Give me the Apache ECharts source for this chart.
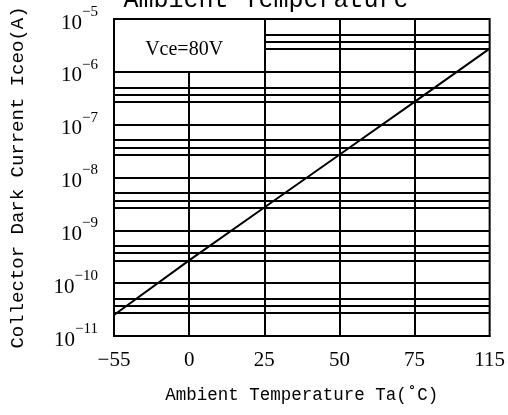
<!DOCTYPE html>
<html>
<head>
<meta charset="utf-8">
<script src="https://cdn.jsdelivr.net/npm/echarts@6/dist/echarts.min.js"></script>
<style>
  html, body { margin: 0; padding: 0; background: #fff; }
  #chart { width: 508px; height: 415px; }
</style>
</head>
<body>
<div id="chart"></div>
<script>
// Ambient temperature ticks (°C), drawn equally spaced
const temperatures = ['\u221255', '0', '25', '50', '75', '115'];
// Collector dark current Iceo (A) at each temperature, Vce = 80 V
const darkCurrent = [2.5e-11, 2.7e-10, 2.7e-9, 2.7e-8, 2.7e-7, 2.75e-6];
// Decades that carry intermediate grid lines
const decades = [-11, -10, -9, -8, -7, -6];
// Multipliers of the intermediate grid lines inside each decade
const minorSteps = [5.1, 3.7, 2.7];
// Vertical grid lines
const fullVerticals = ['25', '50', '75'];
const shortVertical = '0';
const currentMin = 1e-11;
const currentMax = 1e-5;
const boxTop = 1e-6;

const serif = '"Liberation Serif", "Times New Roman", serif';
const mono = '"Liberation Mono", "Courier New", monospace';
const ink = '#000';
const gridLine = { color: ink, width: 2, type: 'solid' };

// intermediate horizontal lines; the top decade leaves room for the Vce box
const gridLines = [];
decades.forEach(d => {
  minorSteps.forEach(m => {
    const v = m * Math.pow(10, d);
    if (v > boxTop) {
      gridLines.push([{ coord: ['25', v] }, { coord: ['115', v] }]);
    } else {
      gridLines.push([{ coord: [temperatures[0], v] }, { coord: ['115', v] }]);
    }
  });
});
fullVerticals.forEach(t => {
  gridLines.push([{ coord: [t, currentMin] }, { coord: [t, currentMax] }]);
});
gridLines.push([{ coord: [shortVertical, currentMin] }, { coord: [shortVertical, boxTop] }]);

function decadeLabel(value) {
  const e = Math.round(Math.log10(value));
  return '{b|10}{e|' + (e < 0 ? '\u2212' : '') + Math.abs(e) + '}';
}

const chart = echarts.init(document.getElementById('chart'), null, { renderer: 'canvas' });
chart.setOption({
  animation: false,
  backgroundColor: '#fff',
  grid: {
    left: 114, right: 17, top: 19, bottom: 79,
    show: true, borderColor: ink, borderWidth: 2, backgroundColor: 'transparent'
  },
  graphic: [{
    type: 'text',
    x: 266, y: 13,
    style: {
      text: 'Ambient Temperature',
      font: '25px ' + mono,
      fill: ink,
      textAlign: 'center',
      textVerticalAlign: 'bottom'
    }
  }],
  xAxis: {
    type: 'category',
    data: temperatures,
    boundaryGap: false,
    axisLine: { show: true, lineStyle: { color: ink, width: 2 } },
    axisTick: { show: false },
    splitLine: { show: false },
    axisLabel: { color: ink, fontFamily: serif, fontSize: 21, margin: 14 },
    name: 'Ambient Temperature Ta(\u02DAC)',
    nameLocation: 'middle',
    nameGap: 50,
    nameTextStyle: { color: ink, fontFamily: mono, fontSize: 17.5 }
  },
  yAxis: {
    type: 'log',
    logBase: 10,
    min: currentMin,
    max: currentMax,
    splitNumber: 6,
    axisLine: { show: true, lineStyle: { color: ink, width: 2 } },
    axisTick: { show: false },
    splitLine: { show: true, lineStyle: gridLine },
    axisLabel: {
      color: ink,
      margin: 16,
      formatter: decadeLabel,
      rich: {
        b: { fontFamily: serif, fontSize: 21, color: ink, verticalAlign: 'bottom', padding: [8, 0, 0, 0] },
        e: { fontFamily: serif, fontSize: 15, color: ink, verticalAlign: 'top' }
      }
    },
    name: 'Collector Dark Current Iceo(A)',
    nameLocation: 'middle',
    nameRotate: 90,
    nameGap: 87,
    nameTextStyle: { color: ink, fontFamily: mono, fontSize: 19 }
  },
  series: [{
    type: 'line',
    data: darkCurrent,
    symbol: 'none',
    lineStyle: { color: ink, width: 2 },
    z: 5,
    markLine: {
      silent: true,
      symbol: 'none',
      label: { show: false },
      lineStyle: gridLine,
      data: gridLines
    },
    markPoint: {
      silent: true,
      symbol: 'rect',
      symbolSize: 1,
      itemStyle: { color: 'rgba(0,0,0,0)' },
      label: {
        show: true,
        position: 'inside',
        formatter: 'Vce=80V',
        color: ink,
        fontFamily: serif,
        fontSize: 20,
        offset: [-5, 0]
      },
      data: [{ coord: ['0', 2.6e-6] }]
    }
  }]
});
</script>
</body>
</html>
